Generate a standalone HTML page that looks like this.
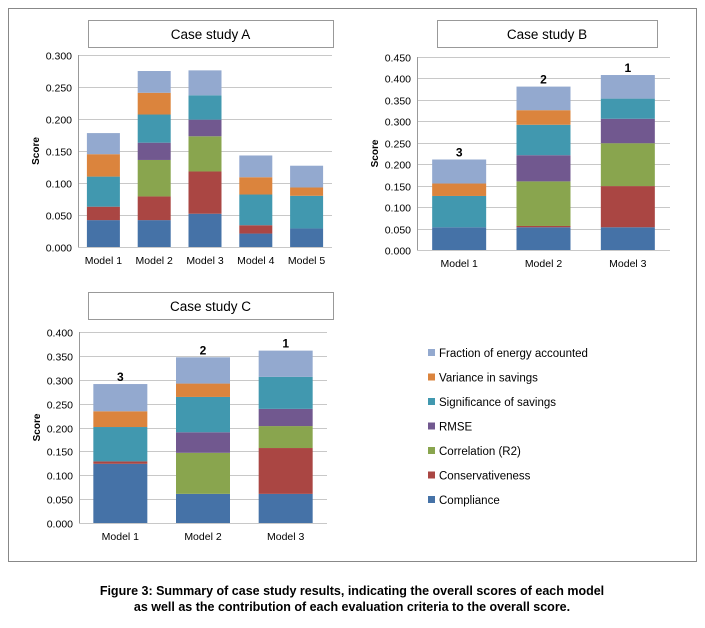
<!DOCTYPE html>
<html><head><meta charset="utf-8">
<style>
body{margin:0;background:#fff;width:705px;height:623px;overflow:hidden;font-family:"Liberation Sans",sans-serif}
svg text{font-family:"Liberation Sans",sans-serif}
</style></head>
<body>
<svg id="fig" width="705" height="623" xmlns="http://www.w3.org/2000/svg">
<rect x="8.5" y="8.5" width="688" height="553" fill="#fff" stroke="#888"/>
<text x="352" y="595" text-anchor="middle" font-size="12.5" font-weight="bold">Figure 3: Summary of case study results, indicating the overall scores of each model</text>
<text x="352" y="611" text-anchor="middle" font-size="12.5" font-weight="bold">as well as the contribution of each evaluation criteria to the overall score.</text>
</svg>
<script>
const seriesNames=["Compliance","Conservativeness","Correlation (R2)","RMSE","Significance of savings","Variance in savings","Fraction of energy accounted"];
const seriesColors=["#4572A7","#AA4643","#89A54E","#71588F","#4198AF","#DB843D","#93A9CF"];
const catsA=["Model 1","Model 2","Model 3","Model 4","Model 5"];
const valsA=[[0.042,0.021,0,0,0.047,0.035,0.033],[0.042,0.037,0.057,0.027,0.044,0.034,0.034],[0.052,0.066,0.055,0.026,0.038,0,0.039],[0.021,0.013,0,0,0.048,0.027,0.034],[0.029,0,0,0,0.051,0.013,0.034]];
const ticksA=["0.000","0.050","0.100","0.150","0.200","0.250","0.300"];
const catsB=["Model 1","Model 2","Model 3"];
const valsB=[[0.053,0,0,0,0.073,0.029,0.056],[0.053,0.003,0.104,0.061,0.071,0.034,0.055],[0.053,0.096,0.100,0.057,0.047,0,0.055]];
const ranksB=["3","2","1"];
const ticksB=["0.000","0.050","0.100","0.150","0.200","0.250","0.300","0.350","0.400","0.450"];
const catsC=["Model 1","Model 2","Model 3"];
const valsC=[[0.124,0.005,0,0,0.072,0.033,0.057],[0.061,0,0.086,0.043,0.074,0.028,0.055],[0.061,0.096,0.046,0.036,0.067,0,0.055]];
const ranksC=["3","2","1"];
const ticksC=["0.000","0.050","0.100","0.150","0.200","0.250","0.300","0.350","0.400"];

const NS="http://www.w3.org/2000/svg";
const svg=document.getElementById("fig");
function mk(tag,attrs,parent){const e=document.createElementNS(NS,tag);for(const k in attrs)e.setAttribute(k,attrs[k]);(parent||svg).appendChild(e);return e;}

function chart(id,cfg,cats,vals,ticks,ranks){
  const g=mk("g",{});
  
  
  const tb=mk("rect",{x:cfg.tx+0.5,y:cfg.ty+0.5,width:cfg.tw,height:27,fill:"#fff",stroke:"#999"},g);
  
  
  const tt=mk("text",{x:cfg.tx+cfg.tw/2,y:cfg.ty+19,"text-anchor":"middle","font-size":"13.5"},g);
  tt.textContent=cfg.title;
  
  
  const max=parseFloat(ticks[ticks.length-1]);
  const y=v=>cfg.y0-(v/max)*(cfg.y0-cfg.y1);
  ticks.forEach(t=>{
    const yy=Math.round(y(parseFloat(t)))+0.5;
    const l=mk("line",{x1:cfg.x0,x2:cfg.x1,y1:yy,y2:yy,stroke:"#c8c8c8"},g);
    
    
    const tx=mk("text",{x:cfg.x0-6,y:yy+4,"text-anchor":"end","font-size":"10.5"},g);
    tx.textContent=t;
    
    
  });
  const ax=mk("line",{x1:cfg.x0+0.5,x2:cfg.x0+0.5,y1:cfg.y1,y2:cfg.y0,stroke:"#999"},g);
  
  
  const yt=mk("text",{x:0,y:0,"text-anchor":"middle","font-size":"10","font-weight":"bold",transform:`translate(${cfg.x0-39},${(cfg.y0+cfg.y1)/2}) rotate(-90)`},g);
  yt.textContent="Score";
  
  
  const cw=(cfg.x1-cfg.x0)/cats.length;
  cats.forEach((c,i)=>{
    const cx=cfg.x0+cw*(i+0.5);
    let acc=0;
    vals[i].forEach((v,s)=>{
      if(v<=0)return;
      const r=mk("rect",{x:cx-cfg.bw/2,y:y(acc+v),width:cfg.bw,height:y(acc)-y(acc+v),fill:seriesColors[s]},g);
      
      
      acc+=v;
    });
    const lb=mk("text",{x:cx,y:cfg.y0+17,"text-anchor":"middle","font-size":"10.5"},g);
    lb.textContent=c;
    
    
    if(ranks){
      const rk=mk("text",{x:cx,y:y(acc)-3,"text-anchor":"middle","font-size":"12","font-weight":"bold"},g);
      rk.textContent=ranks[i];
      
      
    }
  });
}
chart("chart-case-a",{title:"Case study A",tx:88,ty:20,tw:245,x0:78,x1:332,y0:247,y1:55,bw:33},catsA,valsA,ticksA,null);
chart("chart-case-b",{title:"Case study B",tx:437,ty:20,tw:220,x0:417,x1:670,y0:250,y1:57,bw:54},catsB,valsB,ticksB,ranksB);
chart("chart-case-c",{title:"Case study C",tx:88,ty:292,tw:245,x0:79,x1:327,y0:523,y1:332,bw:54},catsC,valsC,ticksC,ranksC);

const legOrder=[6,5,4,3,2,1,0];
legOrder.forEach((s,i)=>{
  const yy=353+i*24.5;
  const sw=mk("rect",{x:428,y:yy-4,width:7,height:7,fill:seriesColors[s]});
  
  
  const t=mk("text",{x:439,y:yy+4,"font-size":"11.5"});
  t.textContent=seriesNames[s];
  
  
});
</script>
</body></html>
